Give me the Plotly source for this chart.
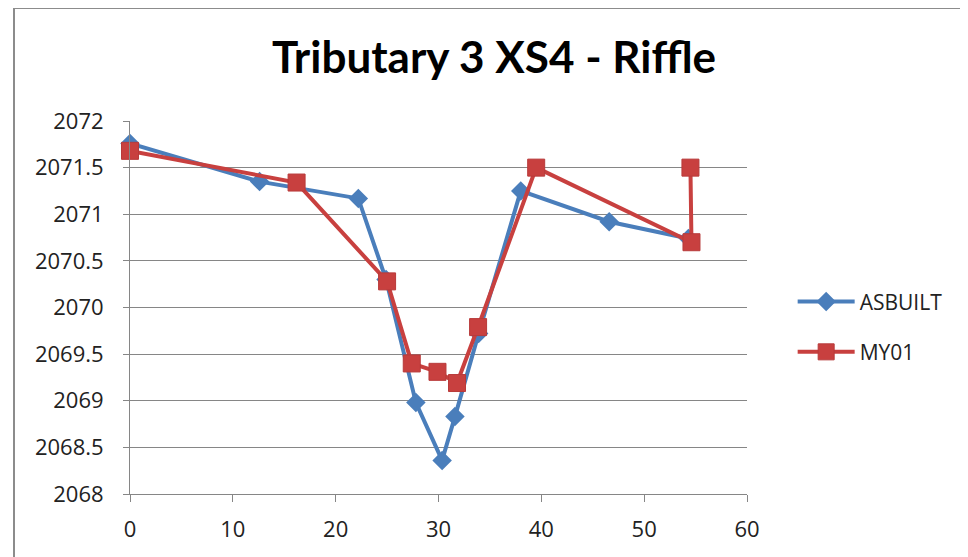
import plotly.graph_objects as go

title_text = "Tributary 3 XS4 - Riffle"

asbuilt_x = [0.0, 12.6, 22.2, 24.9, 27.8, 30.35, 31.6, 33.9, 38.0, 46.6, 54.3]
asbuilt_y = [2071.76, 2071.35, 2071.17, 2070.30, 2068.98, 2068.36, 2068.83, 2069.72, 2071.25, 2070.92, 2070.74]

my01_x = [0.0, 16.2, 25.0, 27.4, 29.9, 31.8, 33.85, 39.5, 54.6, 54.5]
my01_y = [2071.68, 2071.34, 2070.28, 2069.40, 2069.31, 2069.19, 2069.79, 2071.50, 2070.70, 2071.50]

x_ticks = [0, 10, 20, 30, 40, 50, 60]
y_ticks = [2068, 2068.5, 2069, 2069.5, 2070, 2070.5, 2071, 2071.5, 2072]
y_tick_labels = ["2068", "2068.5", "2069", "2069.5", "2070", "2070.5", "2071", "2071.5", "2072"]

blue = "#4A7EBB"
red = "#C8403F"

fig = go.Figure()
fig.add_trace(go.Scatter(
    x=asbuilt_x, y=asbuilt_y, name="ASBUILT", mode="lines+markers",
    line=dict(color=blue, width=4),
    marker=dict(symbol="diamond", size=15, color=blue),
    cliponaxis=False, legendgroup="a",
))
fig.add_trace(go.Scatter(
    x=my01_x, y=my01_y, name="MY01", mode="lines+markers",
    line=dict(color=red, width=4),
    marker=dict(symbol="square", size=17, color=red, line=dict(color="#B83A3A", width=1)),
    cliponaxis=False, legendgroup="b",
))

fig.update_layout(
    width=968, height=557,
    margin=dict(l=122, r=229, t=113, b=71),
    paper_bgcolor="white", plot_bgcolor="white",
    font=dict(family="Open Sans", size=22, color="#222222"),
    title=dict(text="<b>" + title_text + "</b>", x=486 / 968, xanchor="center",
               y=1 - 50 / 557, yanchor="middle",
               font=dict(family="Lato", size=44, color="#000000")),
    showlegend=True,
    legend=dict(x=1.074, xanchor="left", y=0.448, yanchor="middle",
                font=dict(family="Open Sans", size=21, color="#222222"),
                tracegroupgap=20, itemwidth=57, bgcolor="rgba(0,0,0,0)"),
    xaxis=dict(range=[0, 60], tickvals=x_ticks, showgrid=False, zeroline=False,
               showline=True, linecolor="#868686", linewidth=1,
               ticks="outside", ticklen=7, tickcolor="#868686",
               ticklabelstandoff=9,
               tickfont=dict(size=22, color="#222222")),
    yaxis=dict(range=[2068, 2072], tickvals=y_ticks, ticktext=y_tick_labels,
               showgrid=True, gridcolor="#868686", gridwidth=1, zeroline=False,
               showline=True, linecolor="#868686", linewidth=1,
               ticks="outside", ticklen=6, tickcolor="#868686",
               ticklabelstandoff=15,
               tickfont=dict(size=22, color="#222222")),
    shapes=[dict(type="rect", xref="paper", yref="paper",
                 x0=(14 - 130) / 617, x1=(990 - 130) / 617,
                 y0=(494 - 580) / 373, y1=(494 - 8) / 373,
                 line=dict(color="#8C8C8C", width=2), fillcolor="rgba(0,0,0,0)", layer="below")],
)

fig.write_html("out.html")
